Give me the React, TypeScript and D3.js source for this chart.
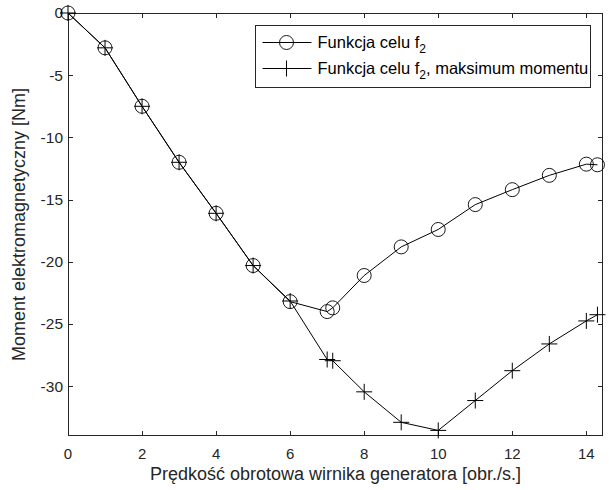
import React, { useEffect, useRef } from "react";
import * as d3 from "d3";

// predkosc [obr./s.]
const speedValues = [0, 1, 2, 3, 4, 5, 6, 7, 7.15, 8, 9, 10, 11, 12, 13, 14, 14.3];
// funkcja celu f2
const momentF2 = [0, -2.8, -7.5, -12.0, -16.1, -20.3, -23.2, -24.0, -23.7, -21.1, -18.8, -17.4, -15.4, -14.2, -13.05, -12.15, -12.2];
// funkcja celu f2, maksimum momentu
const momentF2Max = [0, -2.8, -7.5, -12.0, -16.1, -20.3, -23.15, -27.85, -27.95, -30.45, -32.9, -33.55, -31.15, -28.75, -26.6, -24.75, -24.25];

const xTicks = [0, 2, 4, 6, 8, 10, 12, 14];
const yTicks = [0, -5, -10, -15, -20, -25, -30];

const legendLabels = ["Funkcja celu f", "Funkcja celu f"];

const App = () => {
  const svgRef = useRef<SVGSVGElement>(null);

  useEffect(() => {
    const w = 609;
    const h = 490;
    const left = 68;
    const right = 603;
    const top = 13;
    const bottom = 436;
    const axisColor = "#262626";
    const font = "'Liberation Sans', Arial, sans-serif";

    const svg = d3.select(svgRef.current).attr("width", w).attr("height", h);
    svg.selectAll("*").remove();

    svg.append("rect").attr("width", w).attr("height", h).attr("fill", "#fff");

    const xScale = d3.scaleLinear().domain([0, 14.45]).range([left, right]);
    const yScale = d3.scaleLinear().domain([-34, 0]).range([bottom, top]);

    const g = svg.append("g");

    // ticks (inward, all four sides)
    const tickLen = 5;
    xTicks.forEach((t) => {
      const x = Math.round(xScale(t)) + 0.5;
      g.append("line").attr("x1", x).attr("x2", x).attr("y1", bottom).attr("y2", bottom - tickLen)
        .attr("stroke", axisColor);
      g.append("line").attr("x1", x).attr("x2", x).attr("y1", top).attr("y2", top + tickLen)
        .attr("stroke", axisColor);
      g.append("text").attr("x", xScale(t)).attr("y", bottom + 23)
        .attr("text-anchor", "middle").attr("font-family", font).attr("font-size", 15)
        .attr("fill", axisColor).text(t);
    });
    yTicks.forEach((t) => {
      const y = Math.round(yScale(t)) + 0.5;
      g.append("line").attr("x1", left).attr("x2", left + tickLen).attr("y1", y).attr("y2", y)
        .attr("stroke", axisColor);
      g.append("line").attr("x1", right).attr("x2", right - tickLen).attr("y1", y).attr("y2", y)
        .attr("stroke", axisColor);
      g.append("text").attr("x", left - 5).attr("y", yScale(t)).attr("dy", "0.35em")
        .attr("text-anchor", "end").attr("font-family", font).attr("font-size", 15.5)
        .attr("fill", axisColor).text(t);
    });

    // box
    g.append("rect").attr("x", left + 0.5).attr("y", top + 0.5)
      .attr("width", right - left - 1).attr("height", bottom - top - 1)
      .attr("fill", "none").attr("stroke", axisColor);

    const line = d3.line<number>()
      .x((d, i) => xScale(speedValues[i]))
      .y((d) => yScale(d));

    g.append("path").attr("d", line(momentF2Max)).attr("fill", "none")
      .attr("stroke", "#000").attr("stroke-width", 1);
    g.append("path").attr("d", line(momentF2)).attr("fill", "none")
      .attr("stroke", "#000").attr("stroke-width", 1);

    const r = 7;
    g.selectAll(".circ").data(momentF2).join("circle")
      .attr("cx", (d, i) => xScale(speedValues[i]))
      .attr("cy", (d) => yScale(d))
      .attr("r", r).attr("fill", "none").attr("stroke", "#000").attr("stroke-width", 0.9);

    const p = 8;
    const plus = (gg: any, x: number, y: number) => {
      gg.append("path").attr("d", `M${x - p},${y}H${x + p}M${x},${y - p}V${y + p}`)
        .attr("stroke", "#000").attr("stroke-width", 1).attr("fill", "none");
    };
    momentF2Max.forEach((d, i) => plus(g, xScale(speedValues[i]), yScale(d)));

    // legend
    const lg = svg.append("g");
    const lx = 255.5, ly = 25.5, lw = 335, lh = 62;
    lg.append("rect").attr("x", lx).attr("y", ly).attr("width", lw).attr("height", lh)
      .attr("fill", "#fff").attr("stroke", axisColor);
    const rows = [ly + 17, ly + 43];
    rows.forEach((ry, i) => {
      lg.append("line").attr("x1", lx + 7).attr("x2", lx + 56).attr("y1", ry).attr("y2", ry)
        .attr("stroke", "#000");
      if (i === 0) {
        lg.append("circle").attr("cx", lx + 31).attr("cy", ry).attr("r", r)
          .attr("fill", "none").attr("stroke", "#000").attr("stroke-width", 0.9);
      } else {
        plus(lg, lx + 31, ry);
      }
      const t = lg.append("text").attr("x", lx + 62).attr("y", ry).attr("dy", "0.35em")
        .attr("font-family", font).attr("font-size", 16.5).attr("fill", "#000");
      t.append("tspan").text(legendLabels[i]);
      t.append("tspan").attr("dy", 5).attr("font-size", 12).text("2");
      if (i === 1) {
        t.append("tspan").attr("dy", -5).text(", maksimum momentu");
      }
    });

    // axis labels
    svg.append("text").attr("x", (left + right) / 2).attr("y", 480)
      .attr("text-anchor", "middle").attr("font-family", font).attr("font-size", 18)
      .attr("fill", axisColor).text("Prędkość obrotowa wirnika generatora [obr./s.]");
    svg.append("text").attr("transform", `translate(25,${(top + bottom) / 2}) rotate(-90)`)
      .attr("text-anchor", "middle").attr("font-family", font).attr("font-size", 18)
      .attr("fill", axisColor).text("Moment elektromagnetyczny [Nm]");
  }, []);

  return (
    <svg ref={svgRef} style={{ position: "absolute", left: 0, top: 0, display: "block" }}></svg>
  );
};

export default App;
